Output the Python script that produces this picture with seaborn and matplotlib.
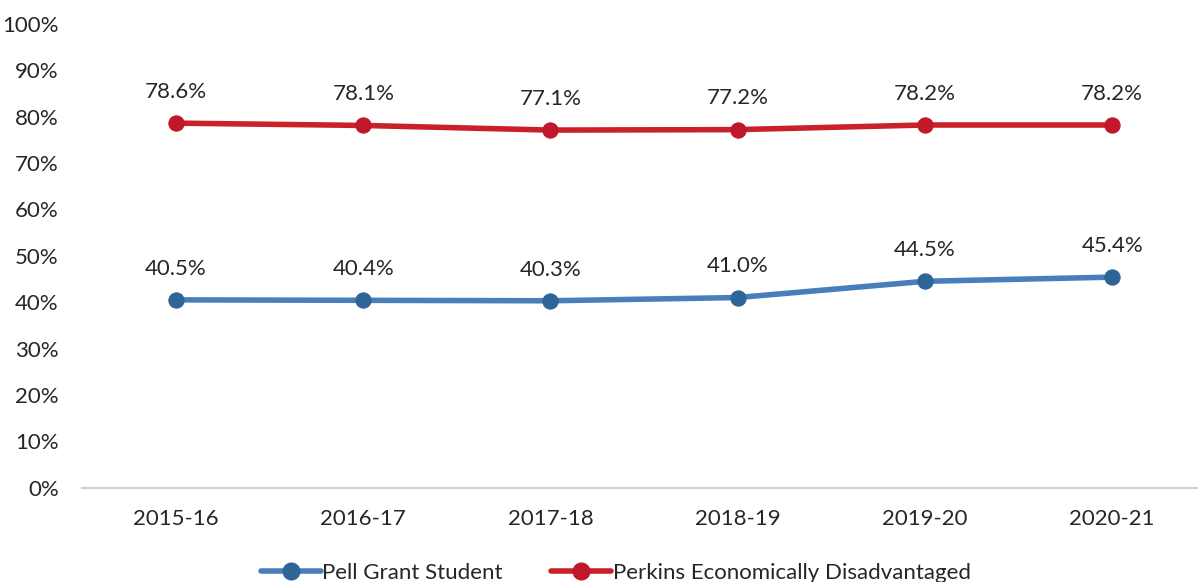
import matplotlib
matplotlib.use("Agg")
import matplotlib.pyplot as plt
import seaborn as sns
import pandas as pd
from matplotlib.ticker import PercentFormatter
from matplotlib.lines import Line2D

years = ["2015-16", "2016-17", "2017-18", "2018-19", "2019-20", "2020-21"]
pell = [40.5, 40.4, 40.3, 41.0, 44.5, 45.4]
perkins = [78.6, 78.1, 77.1, 77.2, 78.2, 78.2]
series_names = ["Pell Grant Student", "Perkins Economically Disadvantaged"]

sns.set_style("white")
plt.rcParams['font.family'] = ['Lato', 'DejaVu Sans']

df = pd.DataFrame({
    "Year": years * 2,
    "Value": pell + perkins,
    "Series": [series_names[0]] * len(years) + [series_names[1]] * len(years),
})
df["x"] = list(range(len(years))) * 2

line_colors = {series_names[0]: "#4A7EBB", series_names[1]: "#C9202A"}
marker_colors = {series_names[0]: "#2F6497", series_names[1]: "#C0182A"}

fig = plt.figure(figsize=(11.98, 5.82), dpi=100)
ax = fig.add_axes([0.0688, 0.162, 0.9377, 0.797])

for name in series_names:
    sub = df[df["Series"] == name]
    sns.lineplot(data=sub, x="x", y="Value", ax=ax, color=line_colors[name],
                 linewidth=4, marker="o", markersize=11,
                 markerfacecolor=marker_colors[name], markeredgecolor=marker_colors[name],
                 legend=False)
    for xi, v in zip(sub["x"], sub["Value"]):
        ax.annotate(f"{v:.1f}%", (xi, v), xytext=(0, 22.5), textcoords="offset points",
                    ha="center", va="center", fontsize=16, color="#262626")

ax.set_xlim(-0.5, 5.5)
ax.set_ylim(0, 100)
ax.set_yticks(range(0, 101, 10))
ax.yaxis.set_major_formatter(PercentFormatter(decimals=0))
ax.set_xticks(range(len(years)))
ax.set_xticklabels(years)
ax.tick_params(axis="both", labelsize=16, colors="#262626", length=0)
ax.tick_params(axis="x", pad=15)
ax.tick_params(axis="y", pad=17)
ax.set_xlabel("")
ax.set_ylabel("")
for s in ["top", "right", "left"]:
    ax.spines[s].set_visible(False)
ax.spines["bottom"].set_color("#D0D0D0")
ax.spines["bottom"].set_linewidth(1.5)

handles = [Line2D([0], [0], color=line_colors[n], lw=4, marker="o", markersize=12,
                  markerfacecolor=marker_colors[n], markeredgecolor=marker_colors[n])
           for n in series_names]
fig.legend(handles, series_names, loc="center", bbox_to_anchor=(0.514, 0.015),
           ncol=2, frameon=False, fontsize=16, handlelength=2.7, handletextpad=0.05,
           columnspacing=2.2, labelcolor="#262626")

fig.savefig("out.png", dpi=100)
